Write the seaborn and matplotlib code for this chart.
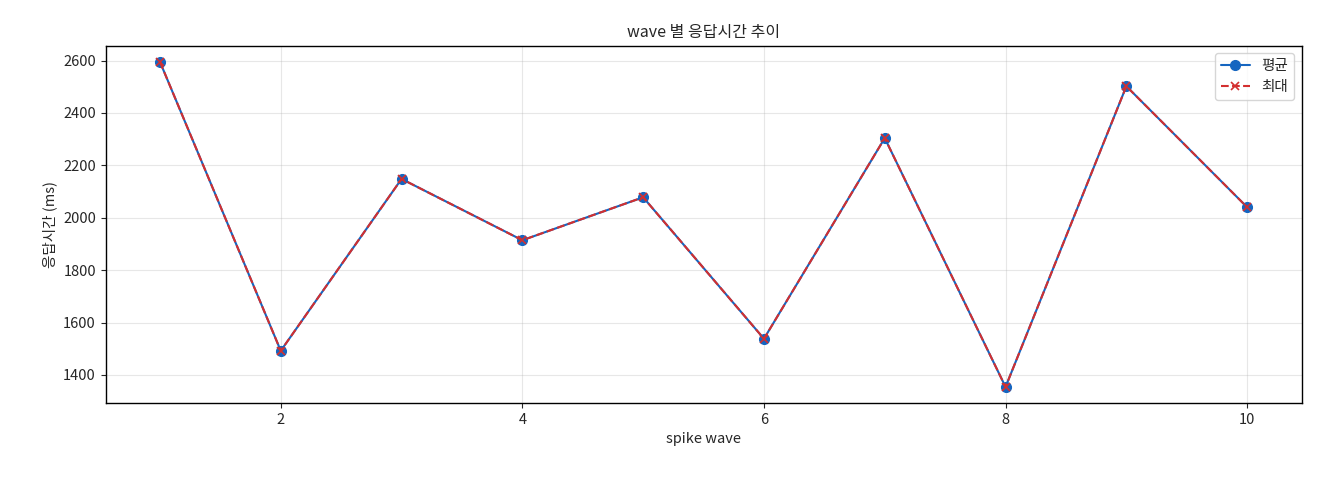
import numpy as np
import pandas as pd
import matplotlib
matplotlib.use("Agg")
import matplotlib.pyplot as plt
import seaborn as sns

# --- Data ---
waves = [1, 2, 3, 4, 5, 6, 7, 8, 9, 10]
avg_ms = [2595, 1492, 2148, 1914, 2078, 1538, 2304, 1354, 2502, 2040]
max_ms = [2595, 1492, 2148, 1914, 2078, 1538, 2304, 1354, 2502, 2040]

sns.set_style("ticks")
plt.rcParams["font.family"] = ["Noto Sans CJK KR", "DejaVu Sans"]
plt.rcParams["axes.unicode_minus"] = False

df = pd.DataFrame({"wave": waves, "avg": avg_ms, "max": max_ms})

BLUE = "#1565C0"
RED = "#D32F2F"

fig, ax = plt.subplots(figsize=(13.2, 4.8), dpi=100)
sns.lineplot(data=df, x="wave", y="avg", ax=ax, color=BLUE, marker="o",
             markersize=7, markeredgecolor=BLUE, markeredgewidth=1,
             linewidth=1.5, label="평균")
sns.lineplot(data=df, x="wave", y="max", ax=ax, color=RED, marker="x",
             markersize=6, markeredgecolor=RED, markeredgewidth=1.2,
             linewidth=1.5, label="최대")
ax.lines[1].set_linestyle("--")

ax.set_title("wave 별 응답시간 추이", fontsize=11.5)
ax.set_xlabel("spike wave", fontsize=10.5)
ax.set_ylabel("응답시간 (ms)", fontsize=10.5)
ax.tick_params(labelsize=10.5)
ax.grid(True, color="#b0b0b0", alpha=0.3, linewidth=0.8)
leg = ax.legend(loc="upper right", fontsize=10.5)
leg.get_lines()[1].set_linestyle("--")
for s in ax.spines.values():
    s.set_linewidth(1.0)
    s.set_color("black")

fig.subplots_adjust(left=0.08, right=0.986, top=0.905, bottom=0.16)
fig.savefig("out.png", dpi=100)
